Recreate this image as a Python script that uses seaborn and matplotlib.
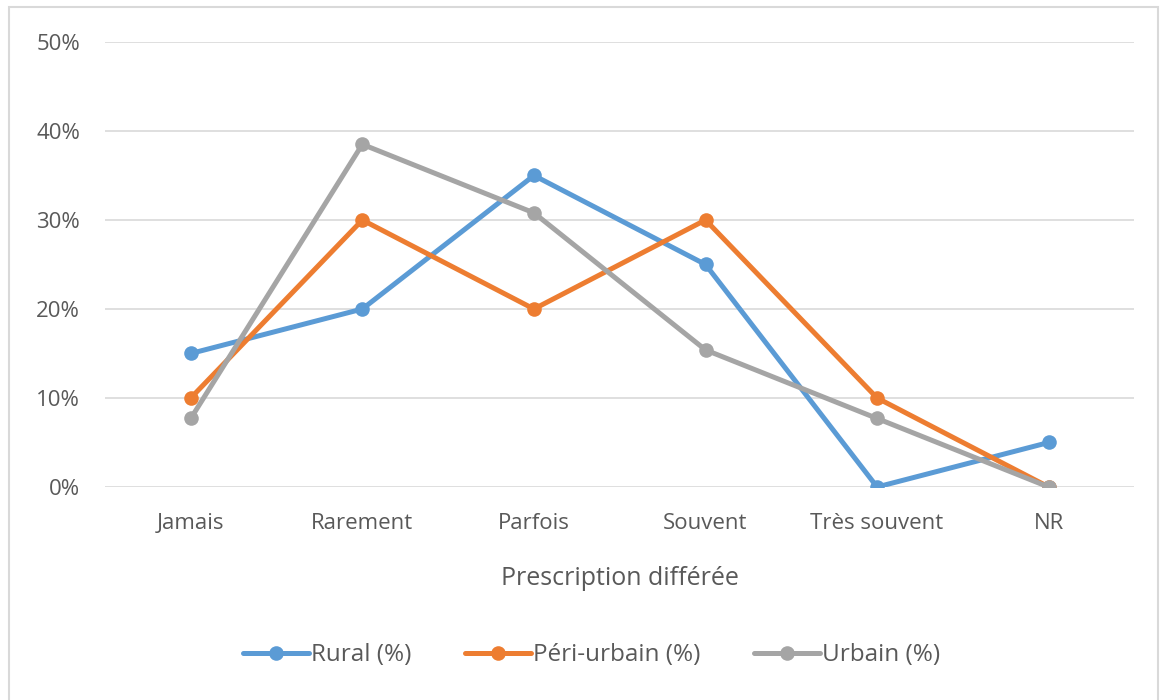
import matplotlib
matplotlib.use("Agg")
import matplotlib.pyplot as plt
import seaborn as sns
import pandas as pd
from matplotlib.patches import Rectangle
from matplotlib.ticker import PercentFormatter

# data (share of respondents, %)
categories = ["Jamais", "Rarement", "Parfois", "Souvent", "Très souvent", "NR"]
rural = [15, 20, 35, 25, 0, 5]
peri_urbain = [10, 30, 20, 30, 10, 0]
urbain = [7.7, 38.5, 30.8, 15.4, 7.7, 0]
series_names = ["Rural (%)", "Péri-urbain (%)", "Urbain (%)"]
colors = ["#5B9BD5", "#ED7D31", "#A5A5A5"]

# long format for seaborn
rows = []
for name, vals in zip(series_names, [rural, peri_urbain, urbain]):
    for cat, v in zip(categories, vals):
        rows.append({"cat": cat, "val": v / 100, "serie": name})
df = pd.DataFrame(rows)

sns.set_theme(style="white")
plt.rcParams["font.family"] = ["Open Sans", "DejaVu Sans"]
text_col = "#595959"

fig = plt.figure(figsize=(11.6, 7), dpi=100)
ax = fig.add_axes([0.0905, 0.3043, 0.8875, 0.6357])

sns.lineplot(data=df, x="cat", y="val", hue="serie", palette=colors,
             marker="o", markersize=10.5, markeredgewidth=0, linewidth=3.6,
             sort=False, ax=ax, legend=True)

ax.set_xlim(-0.5, len(categories) - 0.5)
ax.set_ylim(0, 0.5)
ax.set_yticks([0, 0.1, 0.2, 0.3, 0.4, 0.5])
ax.yaxis.set_major_formatter(PercentFormatter(1.0, decimals=0))
ax.grid(axis="y", color="#D9D9D9", linewidth=1.2)
ax.set_axisbelow(True)
for s in ax.spines.values():
    s.set_visible(False)
ax.tick_params(axis="y", length=0, pad=18, labelsize=16, labelcolor=text_col)
ax.tick_params(axis="x", length=0, pad=19, labelsize=16, labelcolor=text_col)
ax.set_xlabel("Prescription différée", fontsize=18, color=text_col, labelpad=23)
ax.set_ylabel("")

handles, labels = ax.get_legend_handles_labels()
ax.get_legend().remove()
fig.legend(handles, labels, loc="center", bbox_to_anchor=(0.51, 0.064), ncol=3,
           frameon=False, fontsize=17.5, handlelength=2.7, handletextpad=0.1,
           columnspacing=2.2, labelcolor=text_col)

# outer chart border like the office chart frame
fig.patches.append(Rectangle((0.008, -0.01), 0.99, 1.0, transform=fig.transFigure,
                             fill=False, edgecolor="#D9D9D9", linewidth=1.5))

fig.savefig("out.png", dpi=100)
